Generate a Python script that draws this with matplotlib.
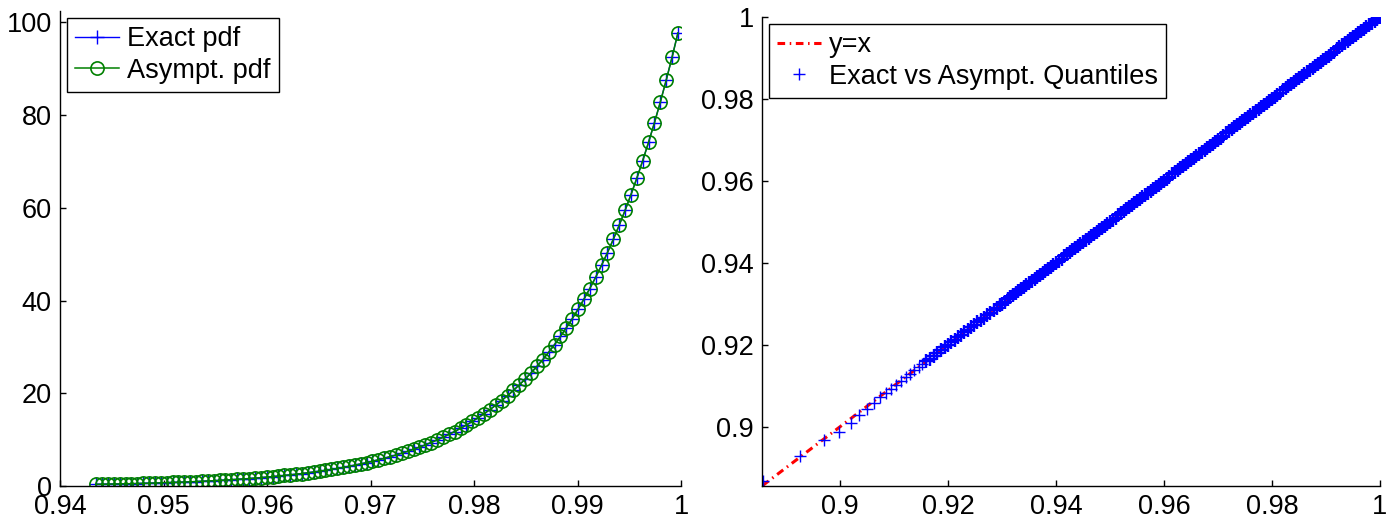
import matplotlib
matplotlib.use("Agg")
import matplotlib.pyplot as plt
import numpy as np
from matplotlib.ticker import FuncFormatter

plt.rcParams["font.family"] = ["Liberation Sans", "DejaVu Sans"]

# left panel: pdf evaluated on 100 points between these ends
pdf_x_ends = (0.9435, 0.9997)
pdf_exact = [
    0.356, 0.377, 0.400, 0.424, 0.449, 0.476, 0.504, 0.535, 0.567, 0.601,
    0.637, 0.675, 0.715, 0.757, 0.803, 0.850, 0.901, 0.955, 1.012, 1.072,
    1.135, 1.203, 1.274, 1.349, 1.429, 1.514, 1.604, 1.699, 1.799, 1.906,
    2.018, 2.137, 2.262, 2.396, 2.537, 2.686, 2.844, 3.012, 3.189, 3.377,
    3.575, 3.784, 4.005, 4.240, 4.488, 4.751, 5.029, 5.323, 5.635, 5.965,
    6.311, 6.678, 7.067, 7.478, 7.913, 8.374, 8.861, 9.377, 9.923, 10.50,
    11.11, 11.75, 12.43, 13.15, 13.91, 14.72, 15.57, 16.47, 17.42, 18.43,
    19.49, 20.61, 21.80, 23.05, 24.38, 25.78, 27.26, 28.83, 30.49, 32.24,
    34.09, 36.04, 38.10, 40.28, 42.58, 45.01, 47.59, 50.31, 53.18, 56.22,
    59.41, 62.79, 66.36, 70.13, 74.11, 78.32, 82.77, 87.48, 92.45, 97.70,
]
# asymptotic pdf is indistinguishable from the exact one at this scale
pdf_asympt = list(pdf_exact)

# right panel: quantile pairs, sparse low tail (asympt, exact)
q_asympt_tail = [0.8856, 0.8925, 0.8970, 0.8997, 0.9019, 0.9035, 0.9049,
                 0.9063, 0.9074, 0.9084, 0.9094, 0.9104, 0.9113, 0.9121,
                 0.9129, 0.9137, 0.9145, 0.9152]
q_exact_tail = [0.8867, 0.8929, 0.8966, 0.8986, 0.9008, 0.9027, 0.9042,
                0.9058, 0.9071, 0.9081, 0.9092, 0.9102, 0.9110, 0.9120,
                0.9129, 0.9138, 0.9146, 0.9153]
# dense part of the quantiles (exact and asympt coincide)
q_dense = [
    0.9159, 0.9166, 0.9173, 0.9180, 0.9187, 0.9194, 0.9200,
    0.9206, 0.9212, 0.9218, 0.9224, 0.9230, 0.9236, 0.9242, 0.9248,
    0.9254, 0.9260, 0.9266, 0.9272, 0.9278, 0.9284, 0.9290, 0.9296,
    0.9300, 0.9305, 0.9310, 0.9315, 0.9320, 0.9325, 0.9330, 0.9335, 0.9340, 0.9345,
    0.9350, 0.9355, 0.9360, 0.9365, 0.9370, 0.9375, 0.9380, 0.9385, 0.9390, 0.9395,
    0.9400, 0.9405, 0.9410, 0.9415, 0.9420, 0.9425, 0.9430, 0.9435, 0.9440, 0.9445,
    0.9450, 0.9455, 0.9460, 0.9465, 0.9470, 0.9475, 0.9480, 0.9485, 0.9490, 0.9495,
    0.9500, 0.9505, 0.9510, 0.9515, 0.9520, 0.9525, 0.9530, 0.9535, 0.9540, 0.9545,
    0.9550, 0.9555, 0.9560, 0.9565, 0.9570, 0.9575, 0.9580, 0.9585, 0.9590, 0.9595,
    0.9600, 0.9605, 0.9610, 0.9615, 0.9620, 0.9625, 0.9630, 0.9635, 0.9640, 0.9645,
    0.9650, 0.9655, 0.9660, 0.9665, 0.9670, 0.9675, 0.9680, 0.9685, 0.9690, 0.9695,
    0.9700, 0.9705, 0.9710, 0.9715, 0.9720, 0.9725, 0.9730, 0.9735, 0.9740, 0.9745,
    0.9750, 0.9755, 0.9760, 0.9765, 0.9770, 0.9775, 0.9780, 0.9785, 0.9790, 0.9795,
    0.9800, 0.9805, 0.9810, 0.9815, 0.9820, 0.9825, 0.9830, 0.9835, 0.9840, 0.9845,
    0.9850, 0.9855, 0.9860, 0.9865, 0.9870, 0.9875, 0.9880, 0.9885, 0.9890, 0.9895,
    0.9900, 0.9905, 0.9910, 0.9915, 0.9920, 0.9925, 0.9930, 0.9935, 0.9940, 0.9945,
    0.9950, 0.9955, 0.9960, 0.9965, 0.9970, 0.9975, 0.9980, 0.9985, 0.9990, 0.9995,
    1.0000,
]

left_xticks = [0.94, 0.95, 0.96, 0.97, 0.98, 0.99, 1.0]
left_yticks = [0, 20, 40, 60, 80, 100]
right_ticks = [0.9, 0.92, 0.94, 0.96, 0.98, 1.0]

FS = 19.5
fmt = FuncFormatter(lambda v, p: "%g" % round(v, 6))


def style_axes(ax):
    for s in ("top", "right"):
        ax.spines[s].set_visible(False)
    for s in ("left", "bottom"):
        ax.spines[s].set_linewidth(1.0)
    ax.tick_params(direction="in", length=4, width=1, labelsize=FS, pad=6)
    ax.xaxis.set_major_formatter(fmt)
    ax.yaxis.set_major_formatter(fmt)


def add_legend(ax):
    leg = ax.legend(loc="upper left", fontsize=FS, fancybox=False,
                    framealpha=1, edgecolor="black", borderaxespad=0.27,
                    borderpad=0.3, labelspacing=0.2, handlelength=1.6,
                    handletextpad=0.3)
    leg.get_frame().set_linewidth(1.0)
    leg.set_zorder(5)


fig = plt.figure(figsize=(13.89, 5.21), dpi=100)

# left: pdfs
ax1 = fig.add_axes([0.0432, 0.0672, 0.4471, 0.9123])
pdf_x = np.linspace(pdf_x_ends[0], pdf_x_ends[1], len(pdf_exact))
ax1.plot(pdf_x, pdf_exact, color="blue", marker="+", markersize=9.5,
         linewidth=1, label="Exact pdf")
ax1.plot(pdf_x, pdf_asympt, color=(0, 0.5, 0), marker="o", markersize=9.5,
         markerfacecolor="none", markeredgewidth=1.2, linewidth=1.1,
         label="Asympt. pdf")
ax1.set_xlim(0.94, 1.0)
ax1.set_ylim(0, 102.5)
ax1.set_xticks(left_xticks)
ax1.set_yticks(left_yticks)
style_axes(ax1)
add_legend(ax1)

# right: quantile comparison
ax2 = fig.add_axes([0.5486, 0.0672, 0.4449, 0.9008])
q_x = q_asympt_tail + q_dense
ends = [min(q_x), max(q_x)]
ax2.plot(ends, ends, color="red", linewidth=2.2,
         linestyle=(0, (2.5, 1.5, 0.5, 1.5)), label="y=x")
ax2.plot(q_asympt_tail, q_exact_tail, linestyle="none", marker="+",
         markersize=8, markeredgewidth=1.0, color="blue",
         label="Exact vs Asympt. Quantiles")
# the dense quantiles merge into a solid band of crosses
ax2.plot(q_dense, q_dense, linestyle="none", marker="+", markersize=10,
         markeredgewidth=1.7, color="blue")
ax2.set_xlim(0.8855, 1.0)
ax2.set_ylim(0.8855, 1.0)
ax2.set_xticks(right_ticks)
ax2.set_yticks(right_ticks)
style_axes(ax2)
add_legend(ax2)

fig.savefig("out.png", dpi=100)
